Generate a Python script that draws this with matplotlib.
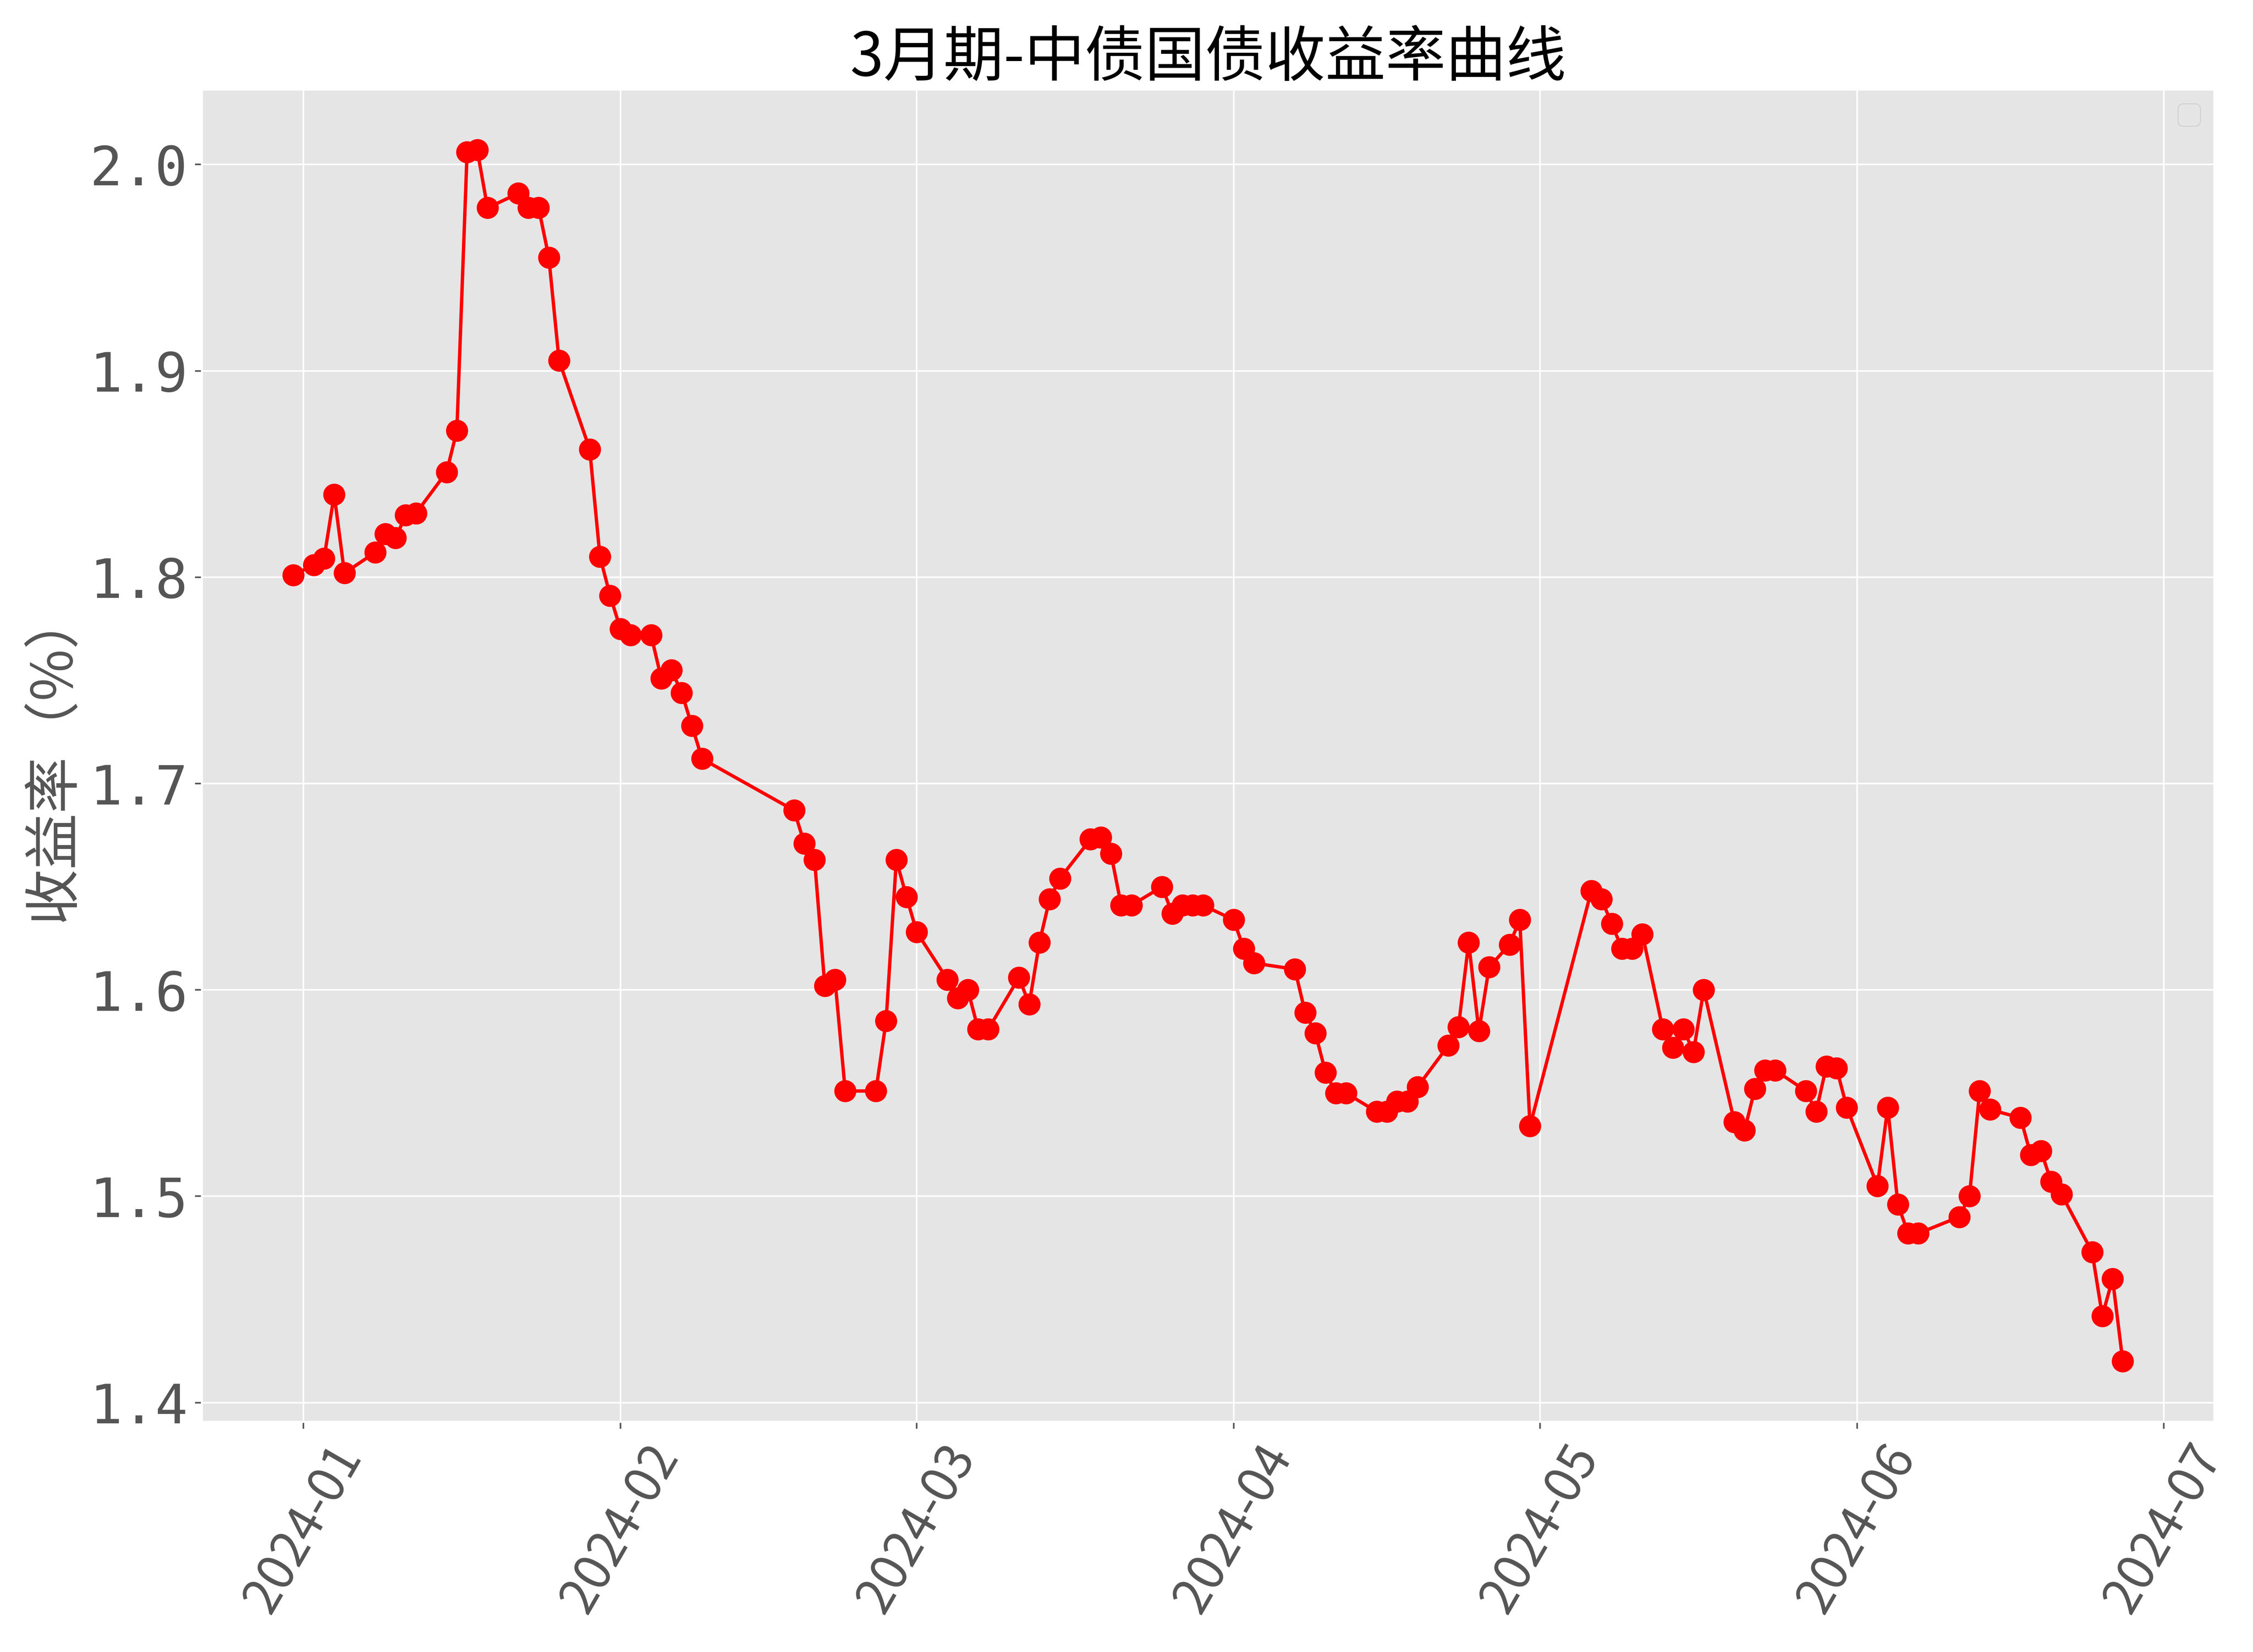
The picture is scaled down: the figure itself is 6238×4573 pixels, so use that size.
import matplotlib
matplotlib.use("Agg")
import matplotlib.pyplot as plt
import matplotlib.dates as mdates
import pandas as pd

plt.style.use("ggplot")
plt.rcParams['font.family'] = ['Noto Sans CJK SC', 'DejaVu Sans']
plt.rcParams['axes.unicode_minus'] = False

title = "3月期-中债国债收益率曲线"
ylabel = "收益率（%）"

dates = [
    "2023-12-31", "2024-01-02", "2024-01-03", "2024-01-04", "2024-01-05",
    "2024-01-08", "2024-01-09", "2024-01-10", "2024-01-11", "2024-01-12",
    "2024-01-15", "2024-01-16", "2024-01-17", "2024-01-18", "2024-01-19",
    "2024-01-22", "2024-01-23", "2024-01-24", "2024-01-25", "2024-01-26",
    "2024-01-29", "2024-01-30", "2024-01-31", "2024-02-01", "2024-02-02",
    "2024-02-04", "2024-02-05", "2024-02-06", "2024-02-07", "2024-02-08",
    "2024-02-09", "2024-02-18", "2024-02-19", "2024-02-20", "2024-02-21",
    "2024-02-22", "2024-02-23", "2024-02-26", "2024-02-27", "2024-02-28",
    "2024-02-29", "2024-03-01", "2024-03-04", "2024-03-05", "2024-03-06",
    "2024-03-07", "2024-03-08", "2024-03-11", "2024-03-12", "2024-03-13",
    "2024-03-14", "2024-03-15", "2024-03-18", "2024-03-19", "2024-03-20",
    "2024-03-21", "2024-03-22", "2024-03-25", "2024-03-26", "2024-03-27",
    "2024-03-28", "2024-03-29", "2024-04-01", "2024-04-02", "2024-04-03",
    "2024-04-07", "2024-04-08", "2024-04-09", "2024-04-10", "2024-04-11",
    "2024-04-12", "2024-04-15", "2024-04-16", "2024-04-17", "2024-04-18",
    "2024-04-19", "2024-04-22", "2024-04-23", "2024-04-24", "2024-04-25",
    "2024-04-26", "2024-04-28", "2024-04-29", "2024-04-30", "2024-05-06",
    "2024-05-07", "2024-05-08", "2024-05-09", "2024-05-10", "2024-05-11",
    "2024-05-13", "2024-05-14", "2024-05-15", "2024-05-16", "2024-05-17",
    "2024-05-20", "2024-05-21", "2024-05-22", "2024-05-23", "2024-05-24",
    "2024-05-27", "2024-05-28", "2024-05-29", "2024-05-30", "2024-05-31",
    "2024-06-03", "2024-06-04", "2024-06-05", "2024-06-06", "2024-06-07",
    "2024-06-11", "2024-06-12", "2024-06-13", "2024-06-14", "2024-06-17",
    "2024-06-18", "2024-06-19", "2024-06-20", "2024-06-21", "2024-06-24",
    "2024-06-25", "2024-06-26", "2024-06-27",
]

yields = [
    1.801, 1.806, 1.809, 1.840, 1.802,
    1.812, 1.821, 1.819, 1.830, 1.831,
    1.851, 1.871, 2.006, 2.007, 1.979,
    1.986, 1.979, 1.979, 1.955, 1.905,
    1.862, 1.810, 1.791, 1.775, 1.772,
    1.772, 1.751, 1.755, 1.744, 1.728,
    1.712, 1.687, 1.671, 1.663, 1.602,
    1.605, 1.551, 1.551, 1.585, 1.663,
    1.645, 1.628, 1.605, 1.596, 1.600,
    1.581, 1.581, 1.606, 1.593, 1.623,
    1.644, 1.654, 1.673, 1.674, 1.666,
    1.641, 1.641, 1.650, 1.637, 1.641,
    1.641, 1.641, 1.634, 1.620, 1.613,
    1.610, 1.589, 1.579, 1.560, 1.550,
    1.550, 1.541, 1.541, 1.546, 1.546,
    1.553, 1.573, 1.582, 1.623, 1.580,
    1.611, 1.622, 1.634, 1.534, 1.648,
    1.644, 1.632, 1.620, 1.620, 1.627,
    1.581, 1.572, 1.581, 1.570, 1.600,
    1.536, 1.532, 1.552, 1.561, 1.561,
    1.551, 1.541, 1.563, 1.562, 1.543,
    1.505, 1.543, 1.496, 1.482, 1.482,
    1.490, 1.500, 1.551, 1.542, 1.538,
    1.520, 1.522, 1.507, 1.501, 1.473,
    1.442, 1.460, 1.420,
]

x = pd.to_datetime(dates)

fig = plt.figure(figsize=(15.595, 11.4325), dpi=400)
ax = fig.add_axes([0.0896, 0.1393, 0.8932, 0.8065])

ax.plot(x, yields, color="red", marker="o", linewidth=1.7, markersize=10)

ax.set_title(title, fontsize=30, color="black")
ax.set_ylabel(ylabel, fontsize=28)
ax.xaxis.set_major_locator(mdates.MonthLocator())
ax.xaxis.set_major_formatter(mdates.DateFormatter("%Y-%m"))
ax.tick_params(axis="x", labelsize=25)
ax.tick_params(axis="y", labelsize=27)
for lbl in ax.get_yticklabels():
    lbl.set_family(['DejaVu Sans Mono', 'DejaVu Sans'])
plt.setp(ax.get_xticklabels(), rotation=60, ha="center")
ax.legend(fontsize=14)

fig.savefig("out.png", dpi=400)
